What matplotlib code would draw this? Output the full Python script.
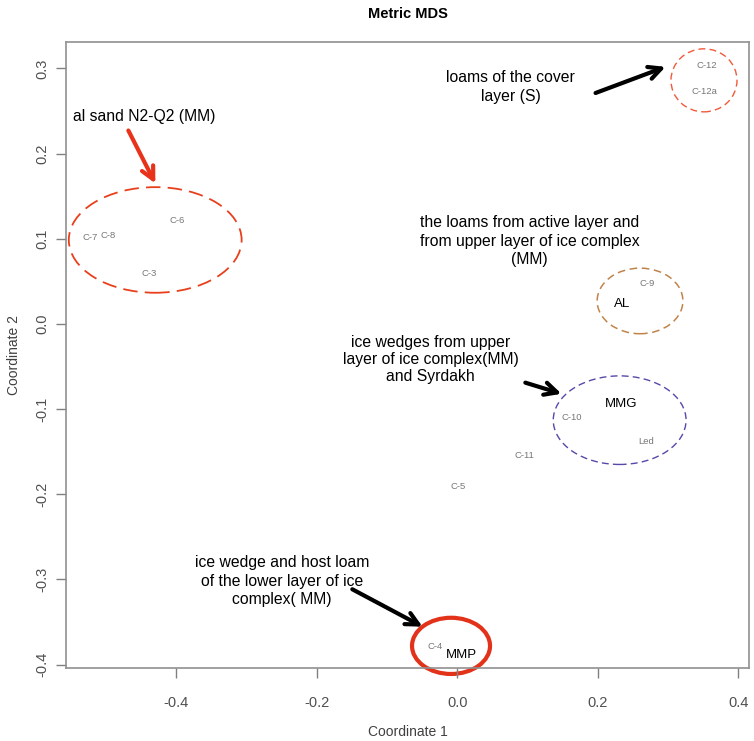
import matplotlib.pyplot as plt
from matplotlib.patches import Ellipse

plt.rcParams['font.family'] = ['Liberation Sans', 'DejaVu Sans']

# sample points (MDS coordinates)
labels = ['C-7', 'C-8', 'C-6', 'C-3', 'C-12', 'C-12a', 'C-9',
          'C-10', 'Led', 'C-11', 'C-5', 'C-4']
coord1 = [-0.522, -0.497, -0.399, -0.439, 0.355, 0.352, 0.270,
          0.163, 0.268, 0.096, 0.001, -0.031]
coord2 = [0.102, 0.104, 0.121, 0.059, 0.303, 0.273, 0.048,
          -0.110, -0.138, -0.155, -0.191, -0.379]

# group names written inside the ellipses
group_names = ['AL', 'MMG', 'MMP']
group_x = [0.234, 0.233, 0.006]
group_y = [0.023, -0.094, -0.389]

# ellipses around groups
ell_x = [-0.430, 0.351, 0.260, 0.231, -0.009]
ell_y = [0.0986, 0.286, 0.027, -0.113, -0.378]
ell_w = [0.246, 0.094, 0.122, 0.189, 0.111]
ell_h = [0.124, 0.074, 0.077, 0.104, 0.066]
ell_col = ['#e8401c', '#f05a3c', '#c0844a', '#5848a8', '#e2321a']
ell_ls = [(0, (8, 4)), (0, (5, 3)), (0, (5, 3)), (0, (5, 3)), '-']
ell_lw = [1.3, 1.0, 1.1, 1.0, 3.0]

fig = plt.figure(figsize=(7.54, 7.41), dpi=100)
ax = fig.add_axes([0.0875, 0.0985, 0.9058, 0.8448])

for lab, x, y in zip(labels, coord1, coord2):
    ax.text(x, y, lab, fontsize=6.8, color='#777777', ha='center', va='center')

for name, x, y in zip(group_names, group_x, group_y):
    ax.text(x, y, name, fontsize=9.5, color='black', ha='center', va='center')

for x, y, w, h, c, ls, lw in zip(ell_x, ell_y, ell_w, ell_h, ell_col, ell_ls, ell_lw):
    ax.add_patch(Ellipse((x, y), w, h, fill=False, edgecolor=c,
                         linestyle=ls, linewidth=lw, clip_on=False))

# annotation arrows
ax.annotate('', xy=(-0.428, 0.162), xytext=(-0.470, 0.230),
            arrowprops=dict(arrowstyle='->,head_length=0.9,head_width=0.45',
                            color='#e8321a', lw=3))
black_arrows = [((0.300, 0.303), (0.193, 0.270)),
                ((0.152, -0.083), (0.093, -0.068)),
                ((-0.046, -0.357), (-0.153, -0.310))]
for tip, tail in black_arrows:
    ax.annotate('', xy=tip, xytext=tail,
                arrowprops=dict(arrowstyle='->,head_length=0.9,head_width=0.45',
                                color='black', lw=3))

ax.text(-0.547, 0.243, 'al sand N2-Q2 (MM)', fontsize=11.3, ha='left', va='center')
ax.text(0.076, 0.278, 'loams of the cover\nlayer (S)', fontsize=11.3,
        ha='center', va='center', linespacing=1.3)
ax.text(0.103, 0.097, 'the loams from active layer and\nfrom upper layer of ice complex\n(MM)',
        fontsize=11.3, ha='center', va='center', linespacing=1.3)
ax.text(-0.038, -0.042, 'ice wedges from upper\nlayer of ice complex(MM)\nand Syrdakh',
        fontsize=11.3, ha='center', va='center', linespacing=1.15)
ax.text(-0.250, -0.302, 'ice wedge and host loam\nof the lower layer of ice\ncomplex( MM)',
        fontsize=11.3, ha='center', va='center', linespacing=1.3)

ax.set_xlim(-0.557, 0.415)
ax.set_ylim(-0.404, 0.331)
ax.set_xticks([-0.4, -0.2, 0.0, 0.2, 0.4])
ax.set_yticks([-0.4, -0.3, -0.2, -0.1, 0.0, 0.1, 0.2, 0.3])
ax.set_xticklabels(['-0.4', '-0.2', '0.0', '0.2', '0.4'])
ax.set_yticklabels(['-0.4', '-0.3', '-0.2', '-0.1', '0.0', '0.1', '0.2', '0.3'],
                   rotation=90, va='center')
ax.tick_params(direction='out', length=7, width=1, color='#808080',
               labelcolor='#505050', labelsize=10.5)
ax.tick_params(axis='x', pad=13)
ax.tick_params(axis='y', pad=5)
for s in ax.spines.values():
    s.set_color('#909090')
    s.set_linewidth(1.2)

ax.set_xlabel('Coordinate 1', fontsize=10, color='#404040', labelpad=11)
ax.set_ylabel('Coordinate 2', fontsize=10, color='#404040', labelpad=10)
ax.set_title('Metric MDS', fontsize=10.5, fontweight='bold', pad=17)

fig.savefig('out.png', dpi=100)
